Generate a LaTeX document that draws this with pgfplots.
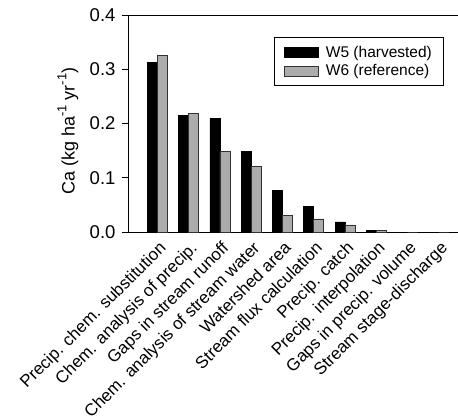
\documentclass[border=0pt]{standalone}
\usepackage{pgfplots}
\pgfplotsset{compat=1.18}
\usepackage{fontspec}
\setmainfont{Liberation Sans}
\definecolor{barg}{RGB}{172,172,172}
\definecolor{barge}{RGB}{50,50,50}
\newcommand{\supx}[1]{\raisebox{0.45em}{\fontsize{13}{13}\selectfont #1}}
\begin{document}
\begin{tikzpicture}
\begin{axis}[
  scale only axis, width=334pt, height=217pt,
  xmin=-0.94, xmax=9.74, ymin=0, ymax=0.4,
  axis line style={line width=0.8pt},
  xtick={0,...,9},
  xticklabels={Precip. chem. substitution, Chem. analysis of precip., Gaps in stream runoff, Chem. analysis of stream water, Watershed area, Stream flux calculation, Precip. catch, Precip. interpolation, Gaps in precip. volume, Stream stage-discharge},
  xtick style={draw=none},
  xticklabel style={rotate=45, anchor=north east, inner sep=1pt, yshift=-1pt, font=\fontsize{17}{17}\selectfont},
  ytick={0,0.1,0.2,0.3,0.4},
  ytick pos=left,
  tick align=outside,
  major tick length=6pt,
  ytick style={line width=0.8pt, black},
  yticklabel style={/pgf/number format/fixed, /pgf/number format/fixed zerofill, /pgf/number format/precision=1, font=\fontsize{18.5}{18.5}\selectfont, xshift=-3pt},
  /pgf/number format/assume math mode=true,
  ylabel={Ca (kg ha\supx{-1} yr\supx{-1})},
  ylabel style={at={(axis description cs:-0.18,0.465)}, anchor=center, font=\fontsize{18}{18}\selectfont},
  legend style={at={(rel axis cs:0.947,0.899)}, anchor=north east, draw=black, line width=0.8pt, font=\fontsize{15.5}{19}\selectfont, legend cell align=left, inner xsep=10pt, inner ysep=6.5pt, row sep=2pt, /tikz/every odd column/.append style={column sep=5pt}},
  legend image code/.code={\draw[#1] (0pt,-5pt) rectangle (34pt,5pt);},
]
\addplot[ybar, bar width=0.32, bar shift=-0.16, fill=black, draw=black, line width=0.8pt] coordinates {
  (0,0.313) (1,0.215) (2,0.209) (3,0.148) (4,0.0765) (5,0.047) (6,0.0185) (7,0.0025) (8,0) (9,0)};
\addlegendentry{W5 (harvested)}
\addplot[ybar, bar width=0.32, bar shift=0.16, fill=barg, draw=barge, line width=0.8pt] coordinates {
  (0,0.326) (1,0.219) (2,0.148) (3,0.121) (4,0.031) (5,0.024) (6,0.013) (7,0.003) (8,0) (9,0)};
\addlegendentry{W6 (reference)}
\coordinate (bl) at (rel axis cs:0,0);
\end{axis}
\pgfresetboundingbox
\path[use as bounding box] (bl) ++(-128pt,-185pt) rectangle ++(458pt,417pt);
\end{tikzpicture}
\end{document}
